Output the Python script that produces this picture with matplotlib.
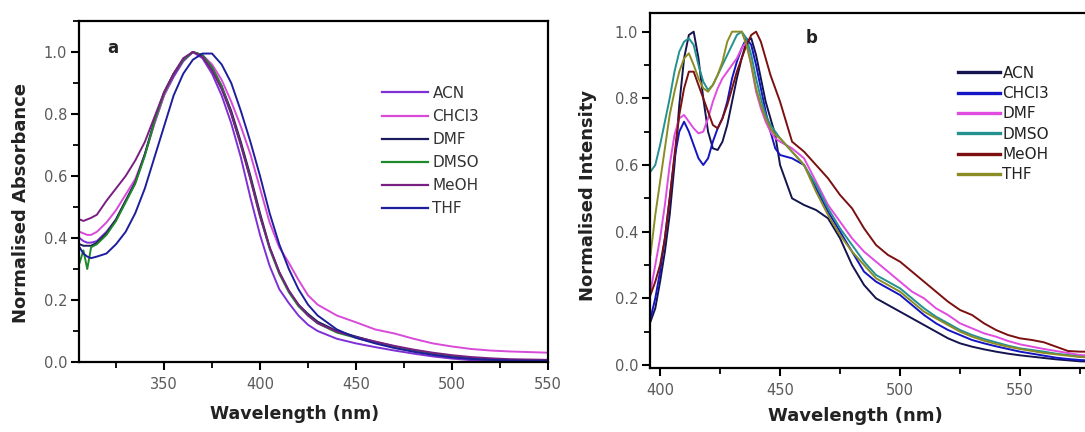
import matplotlib
matplotlib.use("Agg")
import matplotlib.pyplot as plt
from matplotlib.ticker import MultipleLocator

plt.rcParams['font.family'] = ['DejaVu Sans']

# ---- panel a: absorbance ----
wl_abs = [306, 308, 310, 312, 315, 320, 325, 330, 335, 340, 345, 350, 355, 360, 365,
          370, 375, 380, 385, 390, 395, 400, 405, 410, 415, 420, 425, 430, 440, 450,
          460, 470, 480, 490, 500, 510, 520, 530, 540, 550]
abs_acn = [0.40, 0.39, 0.385, 0.385, 0.39, 0.42, 0.46, 0.52, 0.58, 0.67, 0.77, 0.86, 0.92, 0.97, 1.0,
           0.98, 0.93, 0.86, 0.77, 0.66, 0.53, 0.41, 0.31, 0.235, 0.19, 0.15, 0.12, 0.10, 0.075, 0.06,
           0.048, 0.037, 0.027, 0.018, 0.011, 0.006, 0.003, 0.002, 0.001, 0.001]
abs_chcl3 = [0.42, 0.415, 0.41, 0.41, 0.42, 0.45, 0.49, 0.54, 0.59, 0.67, 0.77, 0.86, 0.93, 0.975, 1.0,
             0.99, 0.96, 0.91, 0.84, 0.76, 0.67, 0.56, 0.45, 0.37, 0.32, 0.265, 0.215, 0.185, 0.15, 0.128,
             0.105, 0.092, 0.075, 0.06, 0.05, 0.042, 0.037, 0.034, 0.032, 0.03]
abs_dmf = [0.38, 0.375, 0.375, 0.375, 0.385, 0.415, 0.46, 0.52, 0.58, 0.67, 0.78, 0.87, 0.93, 0.975, 1.0,
           0.99, 0.95, 0.89, 0.81, 0.71, 0.60, 0.48, 0.37, 0.29, 0.23, 0.185, 0.155, 0.13, 0.10, 0.082,
           0.065, 0.05, 0.037, 0.027, 0.019, 0.013, 0.009, 0.007, 0.006, 0.005]
abs_dmso = [0.32, 0.36, 0.30, 0.37, 0.38, 0.41, 0.455, 0.515, 0.575, 0.665, 0.775, 0.865, 0.93, 0.975, 1.0,
            0.99, 0.95, 0.89, 0.80, 0.70, 0.59, 0.47, 0.365, 0.285, 0.225, 0.18, 0.15, 0.125, 0.095, 0.078,
            0.062, 0.048, 0.035, 0.025, 0.017, 0.011, 0.008, 0.006, 0.005, 0.004]
abs_meoh = [0.46, 0.455, 0.46, 0.465, 0.475, 0.52, 0.56, 0.60, 0.65, 0.71, 0.79, 0.87, 0.93, 0.98, 1.0,
            0.985, 0.94, 0.88, 0.80, 0.70, 0.59, 0.47, 0.37, 0.29, 0.23, 0.185, 0.15, 0.125, 0.098, 0.08,
            0.066, 0.052, 0.04, 0.03, 0.022, 0.016, 0.012, 0.009, 0.008, 0.007]
abs_thf = [0.37, 0.35, 0.34, 0.335, 0.34, 0.35, 0.38, 0.42, 0.48, 0.56, 0.66, 0.76, 0.86, 0.93, 0.975,
           0.995, 0.995, 0.96, 0.90, 0.81, 0.71, 0.60, 0.48, 0.38, 0.30, 0.235, 0.185, 0.15, 0.105, 0.078,
           0.06, 0.045, 0.033, 0.023, 0.015, 0.01, 0.007, 0.005, 0.004, 0.004]

# ---- panel b: emission ----
wl_em = [396, 398, 400, 402, 404, 406, 408, 410, 412, 414, 416, 418, 420, 422, 424, 426, 428, 430,
         432, 434, 436, 438, 440, 442, 444, 446, 448, 450, 455, 460, 465, 470, 475, 480, 485, 490,
         495, 500, 505, 510, 515, 520, 525, 530, 535, 540, 545, 550, 555, 560, 565, 570, 575, 580]
em_acn = [0.13, 0.17, 0.25, 0.34, 0.45, 0.60, 0.78, 0.92, 0.99, 1.0, 0.92, 0.80, 0.70, 0.65, 0.645, 0.67, 0.72, 0.79,
          0.86, 0.92, 0.97, 0.98, 0.93, 0.86, 0.79, 0.74, 0.69, 0.60, 0.50, 0.48, 0.465, 0.44, 0.38, 0.30, 0.24, 0.20,
          0.18, 0.16, 0.14, 0.12, 0.10, 0.08, 0.065, 0.055, 0.047, 0.04, 0.034, 0.029, 0.025, 0.021, 0.017, 0.014, 0.011, 0.01]
em_chcl3 = [0.14, 0.20, 0.28, 0.38, 0.50, 0.62, 0.70, 0.73, 0.70, 0.66, 0.62, 0.60, 0.62, 0.67, 0.71, 0.74, 0.79, 0.86,
            0.91, 0.95, 0.98, 0.96, 0.90, 0.83, 0.76, 0.70, 0.65, 0.63, 0.62, 0.60, 0.53, 0.46, 0.40, 0.34, 0.28, 0.25,
            0.23, 0.21, 0.18, 0.15, 0.125, 0.105, 0.09, 0.075, 0.065, 0.056, 0.048, 0.04, 0.034, 0.028, 0.022, 0.018, 0.015, 0.013]
em_dmf = [0.22, 0.30, 0.38, 0.48, 0.60, 0.69, 0.74, 0.75, 0.73, 0.71, 0.695, 0.70, 0.74, 0.79, 0.83, 0.86, 0.88, 0.90,
          0.92, 0.95, 0.97, 0.90, 0.82, 0.77, 0.73, 0.70, 0.68, 0.67, 0.65, 0.62, 0.55, 0.48, 0.43, 0.38, 0.34, 0.31,
          0.28, 0.25, 0.22, 0.20, 0.17, 0.15, 0.125, 0.11, 0.095, 0.085, 0.072, 0.062, 0.055, 0.048, 0.042, 0.036, 0.03, 0.028]
em_dmso = [0.58, 0.60, 0.66, 0.73, 0.80, 0.88, 0.94, 0.97, 0.98, 0.96, 0.90, 0.85, 0.825, 0.84, 0.87, 0.90, 0.93, 0.96,
           0.99, 1.0, 0.98, 0.93, 0.86, 0.80, 0.75, 0.72, 0.70, 0.68, 0.64, 0.60, 0.54, 0.47, 0.41, 0.36, 0.31, 0.27,
           0.25, 0.23, 0.20, 0.17, 0.145, 0.125, 0.105, 0.09, 0.078, 0.068, 0.058, 0.05, 0.045, 0.04, 0.034, 0.03, 0.025, 0.022]
em_meoh = [0.21, 0.25, 0.30, 0.38, 0.50, 0.63, 0.75, 0.83, 0.88, 0.88, 0.84, 0.80, 0.76, 0.72, 0.71, 0.74, 0.78, 0.83,
           0.88, 0.92, 0.96, 0.99, 1.0, 0.97, 0.92, 0.87, 0.83, 0.79, 0.67, 0.64, 0.60, 0.56, 0.51, 0.47, 0.41, 0.36,
           0.33, 0.31, 0.28, 0.25, 0.22, 0.19, 0.165, 0.15, 0.125, 0.105, 0.09, 0.08, 0.075, 0.068, 0.055, 0.042, 0.04, 0.04]
em_thf = [0.33, 0.45, 0.55, 0.65, 0.75, 0.82, 0.88, 0.92, 0.935, 0.90, 0.86, 0.83, 0.82, 0.84, 0.87, 0.91, 0.97, 1.0,
          1.0, 1.0, 0.96, 0.90, 0.83, 0.78, 0.74, 0.71, 0.69, 0.68, 0.64, 0.60, 0.52, 0.45, 0.39, 0.34, 0.30, 0.26,
          0.24, 0.22, 0.19, 0.16, 0.14, 0.12, 0.10, 0.085, 0.073, 0.063, 0.055, 0.048, 0.042, 0.036, 0.032, 0.028, 0.024, 0.022]

solvents = ['ACN', 'CHCl3', 'DMF', 'DMSO', 'MeOH', 'THF']
abs_series = [abs_acn, abs_chcl3, abs_dmf, abs_dmso, abs_meoh, abs_thf]
em_series = [em_acn, em_chcl3, em_dmf, em_dmso, em_meoh, em_thf]
abs_colors = ['#7f2fd6', '#d84ad8', '#1c1c5c', '#1f8a2a', '#7a1f82', '#1e1e9c']
em_colors = ['#14144e', '#1414c4', '#e04ce0', '#249090', '#7c1010', '#8c8c24']

tick_col = '#5a5a5a'
label_col = '#222222'


def style_axes(ax):
    for s in ax.spines.values():
        s.set_linewidth(1.6)
    ax.tick_params(which='major', direction='out', length=6, width=1.5,
                   labelsize=10.5, labelcolor=tick_col)
    ax.tick_params(which='minor', direction='out', length=4, width=1.3)
    ax.tick_params(axis='x', which='major', pad=5)
    ax.tick_params(axis='y', which='major', pad=2.5)


fig = plt.figure(figsize=(10.85, 4.32), dpi=100)

# panel a
ax1 = fig.add_axes([79 / 1085, (432 - 362) / 432, 469 / 1085, 341 / 432])
for y, c, lab in zip(abs_series, abs_colors, solvents):
    ax1.plot(wl_abs, y, color=c, lw=1.4, label=lab)
ax1.set_xlim(305.7, 550)
ax1.set_ylim(0, 1.1)
ax1.xaxis.set_major_locator(MultipleLocator(50))
ax1.xaxis.set_minor_locator(MultipleLocator(25))
ax1.yaxis.set_major_locator(MultipleLocator(0.2))
ax1.yaxis.set_minor_locator(MultipleLocator(0.1))
ax1.yaxis.set_major_formatter(plt.FormatStrFormatter('%.1f'))
style_axes(ax1)
ax1.set_ylabel('Normalised Absorbance', fontsize=13, fontweight='bold', color=label_col)
ax1.set_xlabel('Wavelength (nm)', fontsize=12.5, fontweight='bold', color=label_col)
ax1.yaxis.set_label_coords(-0.104, 0.466)
ax1.xaxis.set_label_coords(0.46, -0.126)
ax1.text(0.072, 0.92, 'a', transform=ax1.transAxes, fontsize=12, fontweight='bold',
         ha='center', va='center', color=label_col)
leg1 = ax1.legend(loc='upper left', bbox_to_anchor=(0.646, 0.81), frameon=False, fontsize=11,
                  handlelength=3.0, handletextpad=0.3, labelspacing=0.53, borderpad=0,
                  borderaxespad=0, labelcolor='#333333')
for h in leg1.legend_handles:
    h.set_linewidth(1.6)

# panel b
ax2 = fig.add_axes([650 / 1085, (432 - 368) / 432, 442 / 1085, 355 / 432])
for y, c, lab in zip(em_series, em_colors, solvents):
    ax2.plot(wl_em, y, color=c, lw=1.4, label=lab)
ax2.set_xlim(395.8, 580)
ax2.set_ylim(-0.009, 1.056)
ax2.xaxis.set_major_locator(MultipleLocator(50))
ax2.xaxis.set_minor_locator(MultipleLocator(25))
ax2.yaxis.set_major_locator(MultipleLocator(0.2))
ax2.yaxis.set_minor_locator(MultipleLocator(0.1))
ax2.yaxis.set_major_formatter(plt.FormatStrFormatter('%.1f'))
style_axes(ax2)
ax2.set_ylabel('Normalised Intensity', fontsize=13, fontweight='bold', color=label_col)
ax2.set_xlabel('Wavelength (nm)', fontsize=13, fontweight='bold', color=label_col)
ax2.yaxis.set_label_coords(-0.12, 0.487)
ax2.xaxis.set_label_coords(0.464, -0.11)
ax2.text(0.366, 0.93, 'b', transform=ax2.transAxes, fontsize=12, fontweight='bold',
         ha='center', va='center', color=label_col)
leg2 = ax2.legend(loc='upper left', bbox_to_anchor=(0.697, 0.852), frameon=False, fontsize=11,
                  handlelength=2.75, handletextpad=0.15, labelspacing=0.35, borderpad=0,
                  borderaxespad=0, labelcolor='#222222')
for h in leg2.legend_handles:
    h.set_linewidth(2.4)

fig.savefig('out.png', dpi=100)
